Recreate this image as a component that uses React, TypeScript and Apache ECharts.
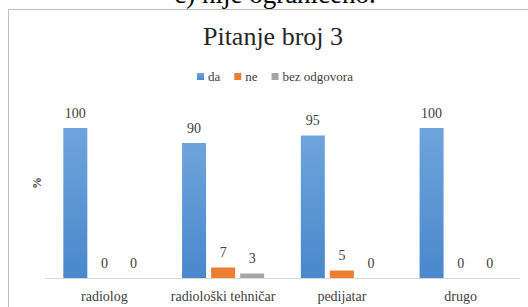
import React, { useEffect, useRef } from "react";
import * as echarts from "echarts";

const categories = ["radiolog", "radiološki tehničar", "pedijatar", "drugo"];
const seriesNames = ["da", "ne", "bez odgovora"];
const daValues = [100, 90, 95, 100];
const neValues = [0, 7, 5, 0];
const bezValues = [0, 3, 0, 0];

const FONT = "Liberation Serif";

export default function App() {
  const ref = useRef<HTMLDivElement>(null);
  useEffect(() => {
    if (!ref.current) return;
    const chart = echarts.init(ref.current, null, { renderer: "svg" });
    const label = {
      show: true,
      position: "top",
      distance: 8,
      color: "#404040",
      fontFamily: FONT,
      fontSize: 14,
    };
    chart.setOption({
      animation: false,
      backgroundColor: "#ffffff",
      textStyle: { fontFamily: FONT },
      title: {
        text: "Pitanje broj 3",
        left: 268,
        textAlign: "center",
        top: 18,
        textStyle: {
          fontFamily: FONT,
          fontSize: 26,
          fontWeight: "normal",
          color: "#262626",
        },
      },
      legend: {
        data: seriesNames,
        top: 65,
        left: 192,
        itemWidth: 7,
        itemHeight: 7,
        itemGap: 14,
        icon: "rect",
        textStyle: {
          fontFamily: FONT,
          fontSize: 13,
          color: "#404040",
          padding: [0, 0, 0, -1],
        },
      },
      grid: { left: 45, right: 8, top: 128, bottom: 29 },
      xAxis: {
        type: "category",
        data: categories,
        axisLine: { lineStyle: { color: "#D9D9D9", width: 1 } },
        axisTick: { show: false },
        axisLabel: {
          interval: 0,
          color: "#404040",
          fontFamily: FONT,
          fontSize: 14,
          margin: 11,
        },
      },
      yAxis: {
        type: "value",
        min: 0,
        max: 100,
        axisLine: { show: false },
        axisTick: { show: false },
        axisLabel: { show: false },
        splitLine: { show: false },
      },
      graphic: [
        {
          type: "rect",
          shape: { x: 8.5, y: 9.5, width: 530, height: 310 },
          style: { fill: "none", stroke: "#BFBFBF", lineWidth: 1 },
          silent: true,
        },
        {
          type: "text",
          x: 275,
          y: 7,
          style: {
            text: "c) nije ograničeno.",
            fontFamily: FONT,
            fontSize: 27,
            fill: "#000000",
            align: "center",
            verticalAlign: "bottom",
          },
        },
        {
          type: "text",
          x: 37,
          y: 183,
          rotation: Math.PI / 2,
          style: {
            text: "%",
            fontFamily: FONT,
            fontSize: 12,
            fontWeight: "bold",
            fill: "#404040",
            align: "center",
            verticalAlign: "middle",
          },
        },
      ],
      series: [
        {
          name: seriesNames[0],
          type: "bar",
          data: daValues,
          barWidth: 24,
          barGap: "21%",
          itemStyle: {
            color: new echarts.graphic.LinearGradient(0, 0, 0, 1, [
              { offset: 0, color: "#6EA4DC" },
              { offset: 1, color: "#4A88CC" },
            ]),
          },
          label,
        },
        {
          name: seriesNames[1],
          type: "bar",
          data: neValues,
          barWidth: 24,
          itemStyle: { color: "#ED7D31" },
          label,
        },
        {
          name: seriesNames[2],
          type: "bar",
          data: bezValues,
          barWidth: 24,
          itemStyle: { color: "#A5A5A5" },
          label,
        },
      ],
    });
    return () => chart.dispose();
  }, []);
  return (
    <div
      ref={ref}
      style={{ position: "absolute", left: 0, top: 0, width: 528, height: 307 }}
    />
  );
}
